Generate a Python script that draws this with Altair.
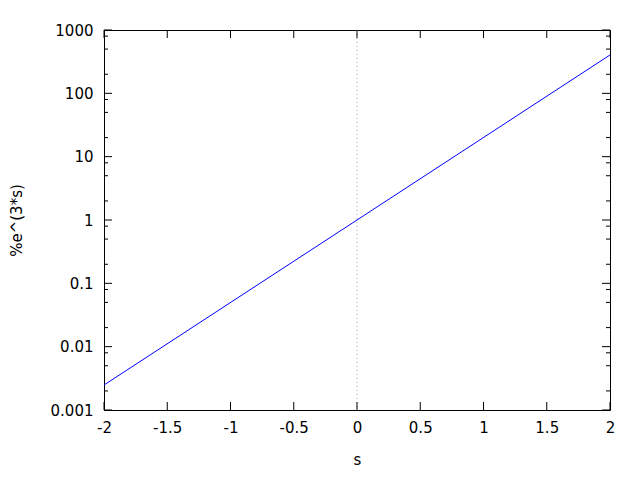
import altair as alt
import pandas as pd

# data
s_vals = [-2.0, 0.0, 2.0]
y_vals = [0.00248, 1.0, 403.4]

x_major = [-2, -1.5, -1, -0.5, 0, 0.5, 1, 1.5, 2]
y_major = [0.001, 0.01, 0.1, 1, 10, 100, 1000]
y_minor = [0.002, 0.005, 0.008, 0.02, 0.05, 0.08, 0.2, 0.5, 0.8,
           2, 5, 8, 20, 50, 80, 200, 500, 800]

W, H = 506, 380
FONT = "DejaVu Sans"
FS = 15

line_df = pd.DataFrame({"s": s_vals, "y": y_vals})
xm = pd.DataFrame({"x": x_major})
ym = pd.DataFrame({"y": y_major})
yn = pd.DataFrame({"y": y_minor})

xs = alt.Scale(domain=[-2, 2], nice=False, zero=False)
ys = alt.Scale(type="log", domain=[0.001, 1000], nice=False)

x_axis = alt.Axis(values=x_major, labelExpr="toString(datum.value)", grid=False,
                  ticks=False, domain=False, labelPadding=10, labelFontSize=FS,
                  labelFont=FONT, labelColor="black", title="s", titleFont=FONT,
                  titleFontSize=FS, titleFontWeight="normal", titleColor="black",
                  titleX=W / 2, titleY=49, titleBaseline="middle", titleAlign="center",
                  labelFlush=False)
y_axis = alt.Axis(values=y_major, labelExpr="toString(datum.value)", grid=False,
                  ticks=False, domain=False, labelPadding=11, labelFontSize=FS,
                  labelFont=FONT, labelColor="black", title="%e^(3*s)", titleFont=FONT,
                  titleFontSize=FS, titleFontWeight="normal", titleColor="black",
                  titleX=-88, titleY=H / 2, titleBaseline="middle", titleAlign="center",
                  titleAngle=270)

main = alt.Chart(line_df).mark_line(color="#0000ff", strokeWidth=1, clip=True).encode(
    x=alt.X("s:Q", scale=xs, axis=x_axis),
    y=alt.Y("y:Q", scale=ys, axis=y_axis),
)

zero = alt.Chart(pd.DataFrame({"x": [0]})).mark_rule(
    color="#a0a0a0", strokeDash=[1, 3], strokeWidth=1).encode(
    x=alt.X("x:Q", scale=xs), y=alt.value(0), y2=alt.value(H))

def xticks(y0, y1):
    return alt.Chart(xm).mark_rule(color="black", strokeWidth=1).encode(
        x=alt.X("x:Q", scale=xs), y=alt.value(y0), y2=alt.value(y1))

def yticks(df, x0, x1):
    return alt.Chart(df).mark_rule(color="black", strokeWidth=1).encode(
        y=alt.Y("y:Q", scale=ys), x=alt.value(x0), x2=alt.value(x1))

chart = alt.layer(
    zero, main,
    xticks(H - 8, H), xticks(0, 8),
    yticks(ym, 0, 8), yticks(ym, W - 8, W),
    yticks(yn, 0, 4), yticks(yn, W - 4, W),
).properties(
    width=W, height=H,
    autosize=alt.AutoSizeParams(type="none"),
    padding={"left": 96, "top": 22, "right": 22, "bottom": 70},
    background="white",
).configure_view(stroke="black", strokeWidth=1)

chart.save("out.html", embed_options={"renderer": "svg", "actions": False})
